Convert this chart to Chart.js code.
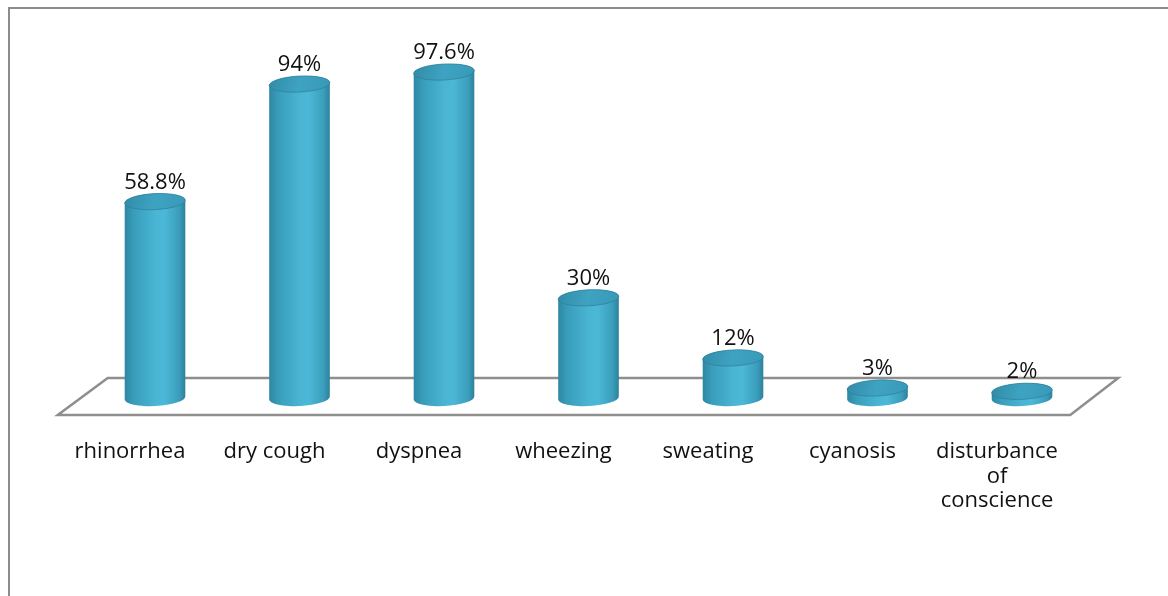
<!DOCTYPE html>
<html>
<head>
<meta charset="utf-8">
<title>Symptoms</title>
<script src="https://cdn.jsdelivr.net/npm/chart.js@4/dist/chart.umd.min.js"></script>
<style>
  html, body { margin: 0; padding: 0; background: #fff; }
  #wrap { position: relative; width: 1168px; height: 596px; }
</style>
</head>
<body>
<div id="wrap"><canvas id="symptomChart" width="1168" height="596"></canvas></div>
<script>
// Symptom frequency (%)
const categories = [
  ['rhinorrhea'],
  ['dry cough'],
  ['dyspnea'],
  ['wheezing'],
  ['sweating'],
  ['cyanosis'],
  ['disturbance', 'of', 'conscience']
];
const percentValues = [58.8, 94, 97.6, 30, 12, 3, 2];
const yTicks = [0, 100];

const FONT = '"Open Sans", "DejaVu Sans", sans-serif';

// Frame around the whole figure
const framePlugin = {
  id: 'frame',
  beforeDraw(chart) {
    const ctx = chart.ctx;
    ctx.save();
    ctx.fillStyle = '#fff';
    ctx.fillRect(0, 0, chart.width, chart.height);
    ctx.strokeStyle = '#8c8c8c';
    ctx.lineWidth = 2;
    ctx.strokeRect(9, 8, chart.width + 40, chart.height + 40);
    ctx.restore();
  }
};

// 3D floor under the bars
const floorPlugin = {
  id: 'floor',
  beforeDatasetsDraw(chart) {
    const { ctx, chartArea } = chart;
    const y0 = chart.scales.y.getPixelForValue(0);
    const depth = 25;
    ctx.save();
    ctx.strokeStyle = '#8e8e8e';
    ctx.lineWidth = 2.5;
    ctx.beginPath();
    ctx.moveTo(chartArea.left - depth, y0 + 17);
    ctx.lineTo(chartArea.left + depth, y0 - 20);
    ctx.lineTo(chartArea.right + depth - 1, y0 - 20);
    ctx.lineTo(chartArea.right - depth + 1, y0 + 17);
    ctx.closePath();
    ctx.stroke();
    ctx.restore();
  }
};

// Cylinders, value labels and category labels
const cylinderPlugin = {
  id: 'cylinders',
  afterDatasetsDraw(chart) {
    const ctx = chart.ctx;
    const meta = chart.getDatasetMeta(0);
    const ry = 8;
    const rot = -0.05;
    meta.data.forEach((bar, i) => {
      const cx = bar.x;
      const rx = bar.width / 2;
      const top = bar.y;
      const base = bar.base;
      const dx = rx * Math.cos(rot);
      const dy = rx * Math.sin(rot);

      // body
      const grad = ctx.createLinearGradient(cx - rx, 0, cx + rx, 0);
      grad.addColorStop(0, '#2e87a2');
      grad.addColorStop(0.15, '#389dbb');
      grad.addColorStop(0.5, '#49b4d3');
      grad.addColorStop(0.65, '#4cb8d7');
      grad.addColorStop(0.9, '#3a9dbb');
      grad.addColorStop(1, '#2d819b');
      ctx.save();
      ctx.beginPath();
      ctx.moveTo(cx - dx, top - dy);
      ctx.lineTo(cx - dx, base - dy);
      ctx.ellipse(cx, base, rx, ry, rot, Math.PI, 0, true);
      ctx.lineTo(cx + dx, top + dy);
      ctx.ellipse(cx, top, rx, ry, rot, 0, Math.PI, true);
      ctx.closePath();
      ctx.fillStyle = grad;
      ctx.fill();

      // cap
      const capGrad = ctx.createLinearGradient(cx - rx, top - ry, cx + rx, top + ry);
      capGrad.addColorStop(0, '#318ca8');
      capGrad.addColorStop(0.5, '#3ea3c1');
      capGrad.addColorStop(1, '#3799b7');
      ctx.beginPath();
      ctx.ellipse(cx, top, rx, ry, rot, 0, Math.PI * 2);
      ctx.fillStyle = capGrad;
      ctx.fill();
      ctx.strokeStyle = 'rgba(45,125,150,0.7)';
      ctx.lineWidth = 1;
      ctx.stroke();

      // value label
      ctx.fillStyle = '#111';
      ctx.font = '22px ' + FONT;
      ctx.textAlign = 'center';
      ctx.textBaseline = 'alphabetic';
      ctx.fillText(percentValues[i] + '%', cx, top - ry - 5);
      ctx.restore();
    });

    // category labels, centred on the front edge of the floor
    const xScale = chart.scales.x;
    const y0 = chart.scales.y.getPixelForValue(0);
    ctx.save();
    ctx.fillStyle = '#111';
    ctx.font = '22px ' + FONT;
    ctx.textAlign = 'center';
    ctx.textBaseline = 'middle';
    categories.forEach((lines, i) => {
      const x = xScale.getPixelForValue(i) - 25;
      lines.forEach((line, j) => {
        ctx.fillText(line, x, y0 + 54 + j * 24.5);
      });
    });
    ctx.restore();
  }
};

new Chart(document.getElementById('symptomChart'), {
  type: 'bar',
  data: {
    labels: categories,
    datasets: [{
      data: percentValues,
      backgroundColor: 'rgba(0,0,0,0)',
      borderWidth: 0,
      categoryPercentage: 1,
      barPercentage: 0.42
    }]
  },
  options: {
    responsive: false,
    animation: false,
    layout: {
      padding: { left: 82.75, right: 73.75, top: 64, bottom: 198 }
    },
    plugins: {
      legend: { display: false },
      tooltip: { enabled: false }
    },
    scales: {
      x: { display: false },
      y: {
        display: false,
        min: yTicks[0],
        max: yTicks[1]
      }
    }
  },
  plugins: [framePlugin, floorPlugin, cylinderPlugin]
});
</script>
</body>
</html>
